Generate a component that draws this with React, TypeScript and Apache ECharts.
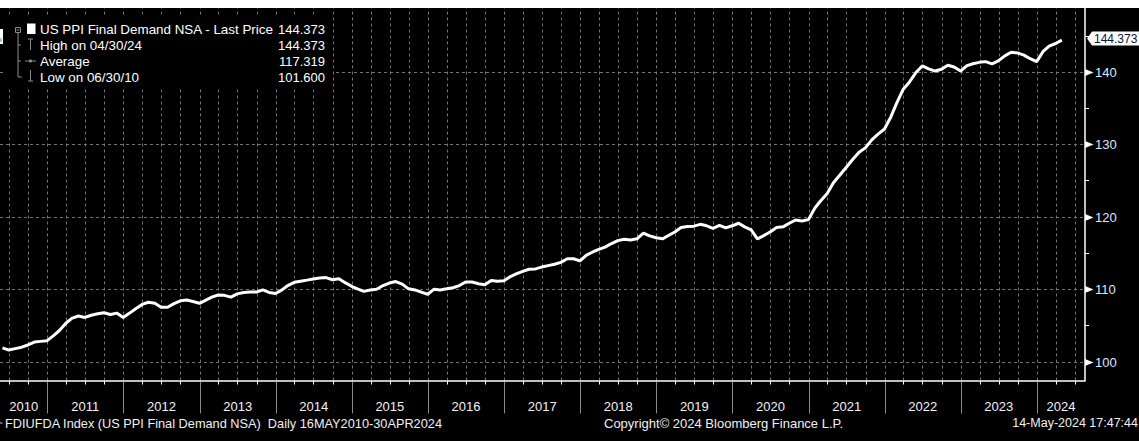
import React, { useEffect, useRef } from "react";
import * as echarts from "echarts";

// ---- data ----
const FIRST_YEAR = 2010;
const FIRST_MONTH = 5; // May 2010 (month-end observations)

const ppiValues: number[] = [
  101.9, 101.6, 101.8, 102.0, 102.3, 102.7, 102.8, 102.9, // 2010 May-Dec
  103.6, 104.3, 105.3, 106.0, 106.3, 106.1, 106.4, 106.6, 106.75, 106.5, 106.7, 106.1, // 2011
  106.7, 107.3, 107.9, 108.2, 108.05, 107.5, 107.5, 108.0, 108.4, 108.5, 108.3, 108.05, // 2012
  108.5, 108.9, 109.2, 109.15, 108.9, 109.35, 109.55, 109.6, 109.6, 109.9, 109.55, 109.4, // 2013
  109.9, 110.5, 110.95, 111.1, 111.25, 111.4, 111.55, 111.6, 111.3, 111.45, 110.9, 110.4, // 2014
  110.0, 109.7, 109.9, 110.0, 110.5, 110.85, 111.05, 110.7, 110.05, 109.9, 109.6, 109.3, // 2015
  110.0, 109.9, 110.05, 110.2, 110.5, 111.0, 111.0, 110.75, 110.6, 111.2, 111.1, 111.15, // 2016
  111.75, 112.1, 112.45, 112.75, 112.8, 113.05, 113.25, 113.45, 113.7, 114.2, 114.2, 113.9, // 2017
  114.7, 115.1, 115.5, 115.8, 116.3, 116.7, 116.9, 116.8, 116.95, 117.75, 117.35, 117.1, // 2018
  116.95, 117.4, 117.9, 118.5, 118.65, 118.7, 118.95, 118.75, 118.4, 118.8, 118.45, 118.75, // 2019
  119.1, 118.6, 118.2, 116.95, 117.4, 117.9, 118.5, 118.6, 119.1, 119.55, 119.4, 119.6, // 2020
  121.2, 122.2, 123.2, 124.7, 125.75, 126.8, 127.9, 128.9, 129.5, 130.6, 131.4, 132.1, // 2021
  133.8, 135.7, 137.6, 138.6, 139.9, 140.8, 140.4, 140.1, 140.35, 140.9, 140.65, 140.1, // 2022
  140.85, 141.1, 141.3, 141.4, 141.1, 141.5, 142.2, 142.7, 142.6, 142.3, 141.8, 141.4, // 2023
  142.8, 143.55, 143.9, 144.373, // 2024 Jan-Apr
];

const yearLabels = [
  "2010", "2011", "2012", "2013", "2014", "2015", "2016", "2017",
  "2018", "2019", "2020", "2021", "2022", "2023", "2024",
];
const yMajorTicks = [100, 110, 120, 130, 140];
const yMinorTicks = [105, 115, 125, 135, 145];

const legendLabels = [
  "US PPI Final Demand NSA - Last Price",
  "High on 04/30/24",
  "Average",
  "Low on 06/30/10",
];
const legendValues = ["144.373", "144.373", "117.319", "101.600"];

const footerLeft = "FDIUFDA Index (US PPI Final Demand NSA)  Daily 16MAY2010-30APR2024";
const footerCenter = "Copyright\u00A9 2024 Bloomberg Finance L.P.";
const footerRight = "14-May-2024 17:47:44";

// axis extents
const X_MIN = Date.UTC(2010, 4, 19);
const X_MAX = Date.UTC(2024, 7, 19);
const Y_MIN = 97.4;
const Y_MAX = 148.8;

const FONT = '"Liberation Sans", Arial, sans-serif';

const crisp = (v: number) => Math.round(v) + 0.5;

export default function App() {
  const ref = useRef<HTMLDivElement>(null);

  useEffect(() => {
    if (!ref.current) return;
    const chart = echarts.init(ref.current, null, { renderer: "svg" });

    const points = ppiValues.map((v, i) => [
      Date.UTC(FIRST_YEAR, FIRST_MONTH - 1 + i + 1, 0),
      v,
    ]);
    const last = ppiValues[ppiValues.length - 1];

    const quarters: number[] = [];
    const yearStarts: number[] = [];
    const yearMids: number[] = [];
    yearLabels.forEach((ys) => {
      const y = Number(ys);
      [0, 3, 6, 9].forEach((m) => {
        const t = Date.UTC(y, m, 1);
        if (t > X_MIN && t < X_MAX) quarters.push(t);
      });
      const s = Date.UTC(y, 0, 1);
      if (s > X_MIN && s < X_MAX) yearStarts.push(s);
      const a = Math.max(X_MIN, s);
      const b = Math.min(X_MAX, Date.UTC(y + 1, 0, 1));
      yearMids.push((a + b) / 2);
    });

    const gridGray = "#727272";
    const gray = "#8c8c8c";

    const legendGraphics: any[] = [
      { type: "rect", shape: { x: 5, y: 17, width: 328, height: 71 }, style: { fill: "#000" }, z: 10 },
      { type: "rect", shape: { x: 15.5, y: 27.5, width: 5, height: 5 }, style: { fill: "none", stroke: gray, lineWidth: 1 }, z: 11 },
      { type: "line", shape: { x1: 16.5, y1: 30, x2: 19.5, y2: 30 }, style: { stroke: gray, lineWidth: 1 }, z: 11 },
      { type: "line", shape: { x1: 18, y1: 33, x2: 18, y2: 77 }, style: { stroke: gray, lineWidth: 1 }, z: 11 },
      { type: "line", shape: { x1: 18, y1: 45, x2: 21, y2: 45 }, style: { stroke: gray, lineWidth: 1 }, z: 11 },
      { type: "line", shape: { x1: 18, y1: 61, x2: 21, y2: 61 }, style: { stroke: gray, lineWidth: 1 }, z: 11 },
      { type: "line", shape: { x1: 18, y1: 77, x2: 22, y2: 77 }, style: { stroke: gray, lineWidth: 1 }, z: 11 },
      { type: "rect", shape: { x: 27, y: 23.5, width: 8.5, height: 10.5 }, style: { fill: "#fff" }, z: 11 },
      { type: "line", shape: { x1: 28, y1: 39, x2: 33, y2: 39 }, style: { stroke: gray, lineWidth: 1 }, z: 11 },
      { type: "line", shape: { x1: 30.5, y1: 39, x2: 30.5, y2: 50 }, style: { stroke: gray, lineWidth: 1 }, z: 11 },
      { type: "line", shape: { x1: 25, y1: 61, x2: 36, y2: 61 }, style: { stroke: gray, lineWidth: 1 }, z: 11 },
      { type: "circle", shape: { cx: 30.5, cy: 61, r: 1.6 }, style: { fill: gray }, z: 11 },
      { type: "line", shape: { x1: 30.5, y1: 70, x2: 30.5, y2: 81 }, style: { stroke: gray, lineWidth: 1 }, z: 11 },
      { type: "line", shape: { x1: 28, y1: 81, x2: 33, y2: 81 }, style: { stroke: gray, lineWidth: 1 }, z: 11 },
    ];
    legendLabels.forEach((t, i) => {
      legendGraphics.push({
        type: "text", z: 12,
        style: { text: t, x: 40, y: 29 + i * 16, fill: "#ffffff", font: `13.4px ${FONT}`, textAlign: "left", textVerticalAlign: "middle" },
      });
      legendGraphics.push({
        type: "text", z: 12,
        style: { text: legendValues[i], x: 325, y: 29 + i * 16, fill: "#ffffff", font: `13px ${FONT}`, textAlign: "right", textVerticalAlign: "middle" },
      });
    });

    const option: any = {
      animation: false,
      backgroundColor: "#000",
      grid: { left: 0, right: 54, top: 8, bottom: 60.5, containLabel: false },
      xAxis: {
        type: "time",
        min: X_MIN,
        max: X_MAX,
        axisLine: { show: true, lineStyle: { color: "#fff", width: 1.5 } },
        axisTick: { show: false },
        axisLabel: { show: false },
        splitLine: { show: false },
      },
      yAxis: {
        type: "value",
        position: "right",
        min: Y_MIN,
        max: Y_MAX,
        axisLine: { show: true, lineStyle: { color: "#fff", width: 1.5 } },
        axisTick: { show: false },
        axisLabel: { show: false },
        splitLine: { show: false },
      },
      series: [
        {
          // vertical quarterly grid lines + bottom ticks
          type: "custom",
          silent: true,
          z: 1,
          data: quarters.map((t) => [t, Y_MIN]),
          renderItem: (_p: any, api: any) => {
            const t = api.value(0);
            const a = api.coord([t, Y_MIN]);
            const b = api.coord([t, Y_MAX]);
            const x = crisp(a[0]);
            return {
              type: "group",
              children: [
                { type: "line", shape: { x1: x, y1: a[1], x2: x, y2: b[1] }, style: { stroke: gridGray, lineWidth: 1, lineDash: [3, 3] } },
                { type: "line", shape: { x1: x, y1: a[1], x2: x, y2: a[1] + 4 }, style: { stroke: "#ffffff", lineWidth: 1 } },
              ],
            };
          },
        },
        {
          // horizontal grid lines + right axis ticks and labels
          type: "custom",
          silent: true,
          z: 1,
          data: yMajorTicks.map((v) => [X_MAX, v]),
          renderItem: (_p: any, api: any) => {
            const v = api.value(1);
            const a = api.coord([X_MIN, v]);
            const b = api.coord([X_MAX, v]);
            const y = crisp(a[1]);
            return {
              type: "group",
              children: [
                { type: "line", shape: { x1: a[0], y1: y, x2: b[0], y2: y }, style: { stroke: gridGray, lineWidth: 1, lineDash: [3, 3] } },
                { type: "polygon", shape: { points: [[b[0], y - 3.5], [b[0] + 8.5, y], [b[0], y + 3.5]] }, style: { fill: "#ffffff" } },
                { type: "text", x: b[0] + 10, y: y, style: { text: String(v), fill: "#dfe9ff", font: `13px ${FONT}`, textAlign: "left", textVerticalAlign: "middle" } },
              ],
            };
          },
        },
        {
          // right axis minor ticks
          type: "custom",
          silent: true,
          z: 1,
          data: yMinorTicks.map((v) => [X_MAX, v]),
          renderItem: (_p: any, api: any) => {
            const p = api.coord([X_MAX, api.value(1)]);
            const y = crisp(p[1]);
            return { type: "line", shape: { x1: p[0], y1: y, x2: p[0] + 4, y2: y }, style: { stroke: "#ffffff", lineWidth: 1 } };
          },
        },
        {
          // year separators below the axis
          type: "custom",
          silent: true,
          z: 1,
          data: yearStarts.map((t) => [t, Y_MIN]),
          renderItem: (_p: any, api: any) => {
            const p = api.coord([api.value(0), Y_MIN]);
            const x = crisp(p[0]);
            return { type: "line", shape: { x1: x, y1: p[1] + 1, x2: x, y2: p[1] + 33 }, style: { stroke: "#8a8a8a", lineWidth: 1 } };
          },
        },
        {
          // year labels
          type: "custom",
          silent: true,
          z: 2,
          data: yearMids.map((t) => [t, Y_MIN]),
          renderItem: (params: any, api: any) => {
            const p = api.coord([api.value(0), Y_MIN]);
            return {
              type: "text",
              x: p[0],
              y: p[1] + 26,
              style: { text: yearLabels[params.dataIndex], fill: "#f2f2f2", font: `13px ${FONT}`, textAlign: "center", textVerticalAlign: "middle" },
            };
          },
        },
        {
          type: "line",
          data: points,
          symbol: "none",
          showSymbol: false,
          lineStyle: { color: "#ffffff", width: 3 },
          z: 3,
        },
        {
          // last price tag
          type: "custom",
          silent: true,
          z: 6,
          data: [[X_MAX, last]],
          renderItem: (_p: any, api: any) => {
            const p = api.coord([X_MAX, api.value(1)]);
            const x0 = p[0] + 2;
            const y = p[1] - 1.5;
            return {
              type: "group",
              children: [
                { type: "polygon", shape: { points: [[x0, y], [x0 + 5, y - 7], [x0 + 60, y - 7], [x0 + 60, y + 7], [x0 + 5, y + 7]] }, style: { fill: "#ffffff" } },
                { type: "text", x: x0 + 7, y: y, style: { text: last.toFixed(3), fill: "#0a1633", font: `12px ${FONT}`, textAlign: "left", textVerticalAlign: "middle" } },
              ],
            };
          },
        },
      ],
      graphic: [
        { type: "rect", shape: { x: 0, y: 0, width: 1139, height: 8 }, style: { fill: "#ffffff" }, z: 20, silent: true },
        { type: "rect", shape: { x: 0, y: 29, width: 3, height: 15 }, style: { fill: "#ffffff" }, z: 20, silent: true },
        { type: "rect", shape: { x: 0, y: 38, width: 2, height: 4 }, style: { fill: "#9cc4ef" }, z: 21, silent: true },
        ...legendGraphics,
        { type: "line", shape: { x1: 0, y1: 423, x2: 2.5, y2: 423 }, style: { stroke: "#cccccc", lineWidth: 1 }, z: 12, silent: true },
        {
          type: "text", z: 12, silent: true,
          style: { text: footerLeft, x: 5, y: 423, fill: "#f0f0f0", font: `12.75px ${FONT}`, textAlign: "left", textVerticalAlign: "middle" },
        },
        {
          type: "text", z: 12, silent: true,
          style: { text: footerCenter, x: 604, y: 423, fill: "#f0f0f0", font: `13px ${FONT}`, textAlign: "left", textVerticalAlign: "middle" },
        },
        {
          type: "text", z: 12, silent: true,
          style: { text: footerRight, x: 1138, y: 423, fill: "#f0f0f0", font: `12.5px ${FONT}`, textAlign: "right", textVerticalAlign: "middle" },
        },
      ],
    };

    chart.setOption(option);
    return () => chart.dispose();
  }, []);

  return (
    <div
      ref={ref}
      style={{ position: "fixed", left: 0, top: 0, width: 1139, height: 441 }}
    />
  );
}
